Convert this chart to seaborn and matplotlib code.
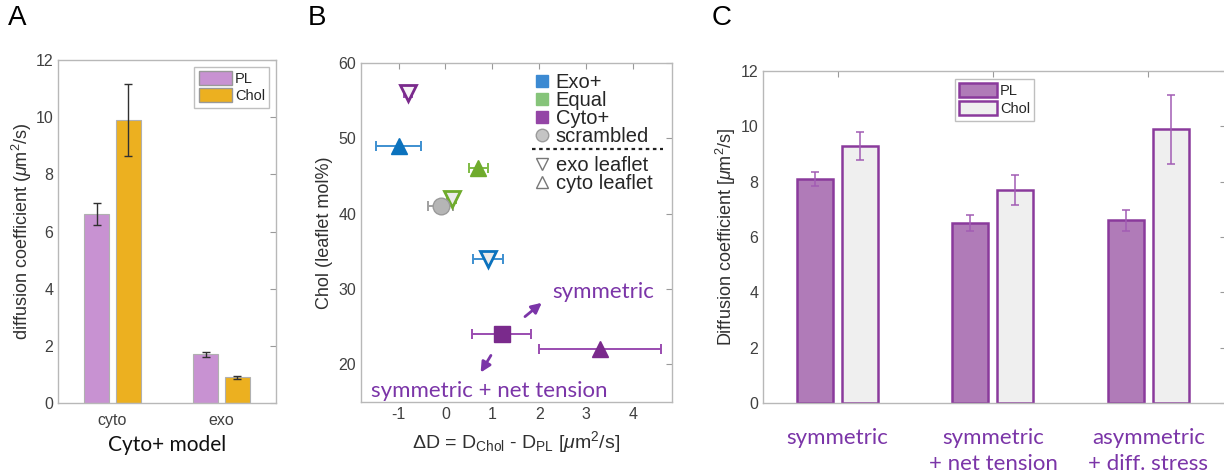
import numpy as np
import pandas as pd
import matplotlib
matplotlib.use("Agg")
import matplotlib.pyplot as plt
from matplotlib.patches import Patch
from matplotlib.lines import Line2D
import seaborn as sns

# ---------------- data ----------------
# Panel A: Cyto+ model, per leaflet
a_leaflets = ["cyto", "exo"]
a_pl = [6.6, 1.7]
a_pl_err = [0.38, 0.10]
a_chol = [9.9, 0.9]
a_chol_err = [1.25, 0.05]

# Panel B: leaflet cholesterol vs. diffusion difference
b_model = ["Cyto+", "Exo+", "Equal", "Equal", "scrambled", "Exo+", "Cyto+", "Cyto+"]
b_leaflet = ["exo", "cyto", "cyto", "exo", "both", "exo", "symmetric", "cyto"]
b_dD = [-0.8, -1.0, 0.7, 0.13, -0.1, 0.9, 1.2, 3.3]
b_dD_err = [0.08, 0.47, 0.2, 0.1, 0.27, 0.32, 0.63, 1.3]
b_chol = [56, 49, 46, 42, 41, 34, 24, 22]

# Panel C: Cyto+ membrane under different conditions
c_conditions = ["symmetric", "symmetric\n+ net tension", "asymmetric\n+ diff. stress"]
c_pl = [8.1, 6.5, 6.6]
c_pl_err = [0.25, 0.3, 0.37]
c_chol = [9.3, 7.7, 9.9]
c_chol_err = [0.5, 0.55, 1.25]

# ---------------- style ----------------
sns.set_style("white")
plt.rcParams["font.family"] = ["Liberation Sans", "DejaVu Sans"]
plt.rcParams["mathtext.fontset"] = "custom"
plt.rcParams["mathtext.rm"] = "Liberation Sans"
plt.rcParams["mathtext.it"] = "Liberation Sans:italic"
plt.rcParams["axes.unicode_minus"] = False

TICK_C = "#404040"
SPINE_C = "#b8b8b8"
LABEL_C = "#303030"
PURPLE_TXT = "#7b35a8"
CAL = ["Lato", "DejaVu Sans"]
LAB_FS = 13


def matlab_box(ax):
    for s in ax.spines.values():
        s.set_color(SPINE_C)
        s.set_linewidth(1.0)
    ax.tick_params(direction="in", length=4, width=0.8, color="#9a9a9a",
                   labelcolor=TICK_C, labelsize=11.5, top=True, right=True)


fig = plt.figure(figsize=(12.24, 4.75), dpi=100)
W, H = 1224, 475


def add_axes_px(left, top, right, bottom):
    return fig.add_axes([left / W, 1 - bottom / H, (right - left) / W, (bottom - top) / H])


# ---------------- Panel A ----------------
axA = add_axes_px(58, 60, 276, 403)
dfA = pd.DataFrame({
    "leaflet": a_leaflets * 2,
    "D": a_pl + a_chol,
    "lipid": ["PL"] * 2 + ["Chol"] * 2,
})
palA = {"PL": "#c892d2", "Chol": "#ecb020"}
sns.barplot(data=dfA, x="leaflet", y="D", hue="lipid", palette=palA,
            width=0.58, gap=0.2, errorbar=None, saturation=1,
            edgecolor="#b0b0b0", linewidth=0.8, legend=False, ax=axA)
for cont, errs in zip(axA.containers, [a_pl_err, a_chol_err]):
    xs = [p.get_x() + p.get_width() / 2 for p in cont.patches]
    ys = [p.get_height() for p in cont.patches]
    axA.errorbar(xs, ys, yerr=errs, fmt="none", ecolor="#303030",
                 elinewidth=1.0, capsize=3, capthick=1.0, zorder=5)
axA.set_xlim(-0.5, 1.5)
axA.set_ylim(0, 12)
axA.set_yticks(range(0, 13, 2))
matlab_box(axA)
axA.tick_params(axis="x", top=False, length=0, pad=7)
axA.set_ylabel("diffusion coefficient ($\\mu$m$^2$/s)", fontsize=LAB_FS, color=LABEL_C, labelpad=1)
axA.set_xlabel("Cyto+ model", fontsize=15, family=CAL, color="#111111", labelpad=5)
legA = axA.legend(handles=[Patch(facecolor=palA["PL"], edgecolor="#999999", label="PL"),
                           Patch(facecolor=palA["Chol"], edgecolor="#999999", label="Chol")],
                  loc="upper right", bbox_to_anchor=(0.97, 0.98), borderaxespad=0,
                  fontsize=10.5, frameon=True, fancybox=False, edgecolor="#b0b0b0",
                  handlelength=2.3, handleheight=1.1, handletextpad=0.2,
                  labelspacing=0.15, borderpad=0.3)
legA.get_frame().set_linewidth(1.0)

# ---------------- Panel B ----------------
axB = add_axes_px(361, 63, 672, 402)
colB = {"Exo+": "#0b72bd", "Equal": "#6fab2c", "Cyto+": "#7a2a8c", "scrambled": "#b5b5b5"}
errB = {"Exo+": "#3d8fd0", "Equal": "#7fbb44", "Cyto+": "#9a4cb0", "scrambled": "#a0a0a0"}
dfB = pd.DataFrame({"model": b_model, "leaflet": b_leaflet, "dD": b_dD,
                    "err": b_dD_err, "chol": b_chol})
for _, r in dfB.iterrows():
    axB.errorbar(r["dD"], r["chol"], xerr=r["err"], fmt="none",
                 ecolor=errB[r["model"]], elinewidth=1.4, capsize=3.5,
                 capthick=1.4, zorder=2)
mk = {"exo": "v", "cyto": "^", "both": "o", "symmetric": "s"}
for _, r in dfB.iterrows():
    c = colB[r["model"]]
    if r["leaflet"] == "exo":
        face, edge, lw = ("#f7f3f7" if r["model"] == "Cyto+" else "#ebebeb"), c, 2.0
    elif r["leaflet"] == "both":
        face, edge, lw = c, "#9a9a9a", 1.0
    else:
        face, edge, lw = c, c, 1.0
    axB.plot(r["dD"], r["chol"], marker=mk[r["leaflet"]], ms=12,
             mfc=face, mec=edge, mew=lw, ls="none", zorder=4)
axB.set_xlim(-1.8, 4.83)
axB.set_ylim(15, 60)
axB.set_xticks(range(-1, 5))
axB.set_yticks(range(20, 61, 10))
matlab_box(axB)
axB.set_ylabel("Chol (leaflet mol%)", fontsize=LAB_FS, color=LABEL_C, labelpad=4)
axB.set_xlabel("$\\Delta$D = D$_{\\mathrm{Chol}}$ - D$_{\\mathrm{PL}}$ [$\\mu$m$^2$/s]",
               fontsize=LAB_FS + 1, color=LABEL_C, labelpad=5)

# annotations for the symmetric Cyto+ point
axB.annotate("", xy=(2.1, 28.4), xytext=(1.65, 26.1),
             arrowprops=dict(arrowstyle="-|>,head_length=0.6,head_width=0.3",
                             color=PURPLE_TXT, lw=2.0))
axB.text(2.27, 29.6, "symmetric", family=CAL, fontsize=16, color=PURPLE_TXT,
         ha="left", va="center")
axB.annotate("", xy=(0.72, 18.6), xytext=(1.0, 21.5),
             arrowprops=dict(arrowstyle="-|>,head_length=0.6,head_width=0.3",
                             color=PURPLE_TXT, lw=2.0))
axB.text(-1.58, 16.4, "symmetric + net tension", family=CAL, fontsize=16,
         color=PURPLE_TXT, ha="left", va="center")

# legend: model colours, separator, leaflet markers
legcol = {"Exo+": "#3c8ad2", "Equal": "#86c47a", "Cyto+": "#9445a6"}
h1 = [Line2D([], [], marker="s", ls="none", ms=9, mfc=legcol[k], mec=legcol[k], label=k)
      for k in ["Exo+", "Equal", "Cyto+"]]
h1.append(Line2D([], [], marker="o", ls="none", ms=9, mfc="#c4c4c4", mec="#9a9a9a", label="scrambled"))
leg1 = axB.legend(handles=h1, loc="upper left", bbox_to_anchor=(0.555, 0.97),
                  frameon=False, fontsize=14.5, handlelength=0.8, handletextpad=0.3,
                  labelspacing=-0.05, borderaxespad=0, borderpad=0.0)
axB.add_artist(leg1)
axB.plot([0.55, 0.97], [0.746, 0.746], transform=axB.transAxes, color="#222222",
         ls=(0, (1.6, 1.6)), lw=1.6, clip_on=False)
h2 = [Line2D([], [], marker="v", ls="none", ms=9, mfc="white", mec="#777777", mew=1.0, label="exo leaflet"),
      Line2D([], [], marker="^", ls="none", ms=9, mfc="white", mec="#777777", mew=1.0, label="cyto leaflet")]
axB.legend(handles=h2, loc="upper left", bbox_to_anchor=(0.555, 0.725),
           frameon=False, fontsize=14.5, handlelength=0.8, handletextpad=0.3,
           labelspacing=-0.05, borderaxespad=0, borderpad=0.0)

# ---------------- Panel C ----------------
axC = add_axes_px(763, 71, 1226, 403)
dfC = pd.DataFrame({
    "condition": c_conditions * 2,
    "D": c_pl + c_chol,
    "lipid": ["PL"] * 3 + ["Chol"] * 3,
})
palC = {"PL": "#b07bb8", "Chol": "#efefef"}
sns.barplot(data=dfC, x="condition", y="D", hue="lipid", palette=palC,
            width=0.58, gap=0.2, errorbar=None, saturation=1,
            edgecolor="#8a3a9c", linewidth=1.8, legend=False, ax=axC)
for cont, errs in zip(axC.containers, [c_pl_err, c_chol_err]):
    xs = [p.get_x() + p.get_width() / 2 for p in cont.patches]
    ys = [p.get_height() for p in cont.patches]
    axC.errorbar(xs, ys, yerr=errs, fmt="none", ecolor="#a25cb4",
                 elinewidth=1.1, capsize=3, capthick=1.1, zorder=5)
axC.set_xlim(-0.48, 2.5)
axC.set_ylim(0, 12)
axC.set_yticks(range(0, 13, 2))
matlab_box(axC)
axC.tick_params(axis="x", bottom=False, pad=18)
for lab in axC.get_xticklabels():
    lab.set_family(CAL)
    lab.set_fontsize(16)
    lab.set_color(PURPLE_TXT)
    lab.set_va("top")
    lab.set_linespacing(1.4)
axC.set_xlabel("")
axC.set_ylabel("Diffusion coefficient [$\\mu$m$^2$/s]", fontsize=LAB_FS, color=LABEL_C, labelpad=2)
legC = axC.legend(handles=[Patch(facecolor=palC["PL"], edgecolor="#8a3a9c", lw=1.8, label="PL"),
                           Patch(facecolor=palC["Chol"], edgecolor="#8a3a9c", lw=1.8, label="Chol")],
                  loc="upper center", bbox_to_anchor=(0.5, 0.976), borderaxespad=0,
                  fontsize=10.5, frameon=True, fancybox=False, edgecolor="#b0b0b0",
                  handlelength=2.6, handleheight=1.1, handletextpad=0.2,
                  labelspacing=0.2, borderpad=0.3)
legC.get_frame().set_linewidth(1.0)

# panel letters
for x, letter in [(8, "A"), (308, "B"), (712, "C")]:
    fig.text(x / W, 1 - 5 / H, letter, fontsize=20, ha="left", va="top", color="black")

fig.savefig("out.png", dpi=100)
